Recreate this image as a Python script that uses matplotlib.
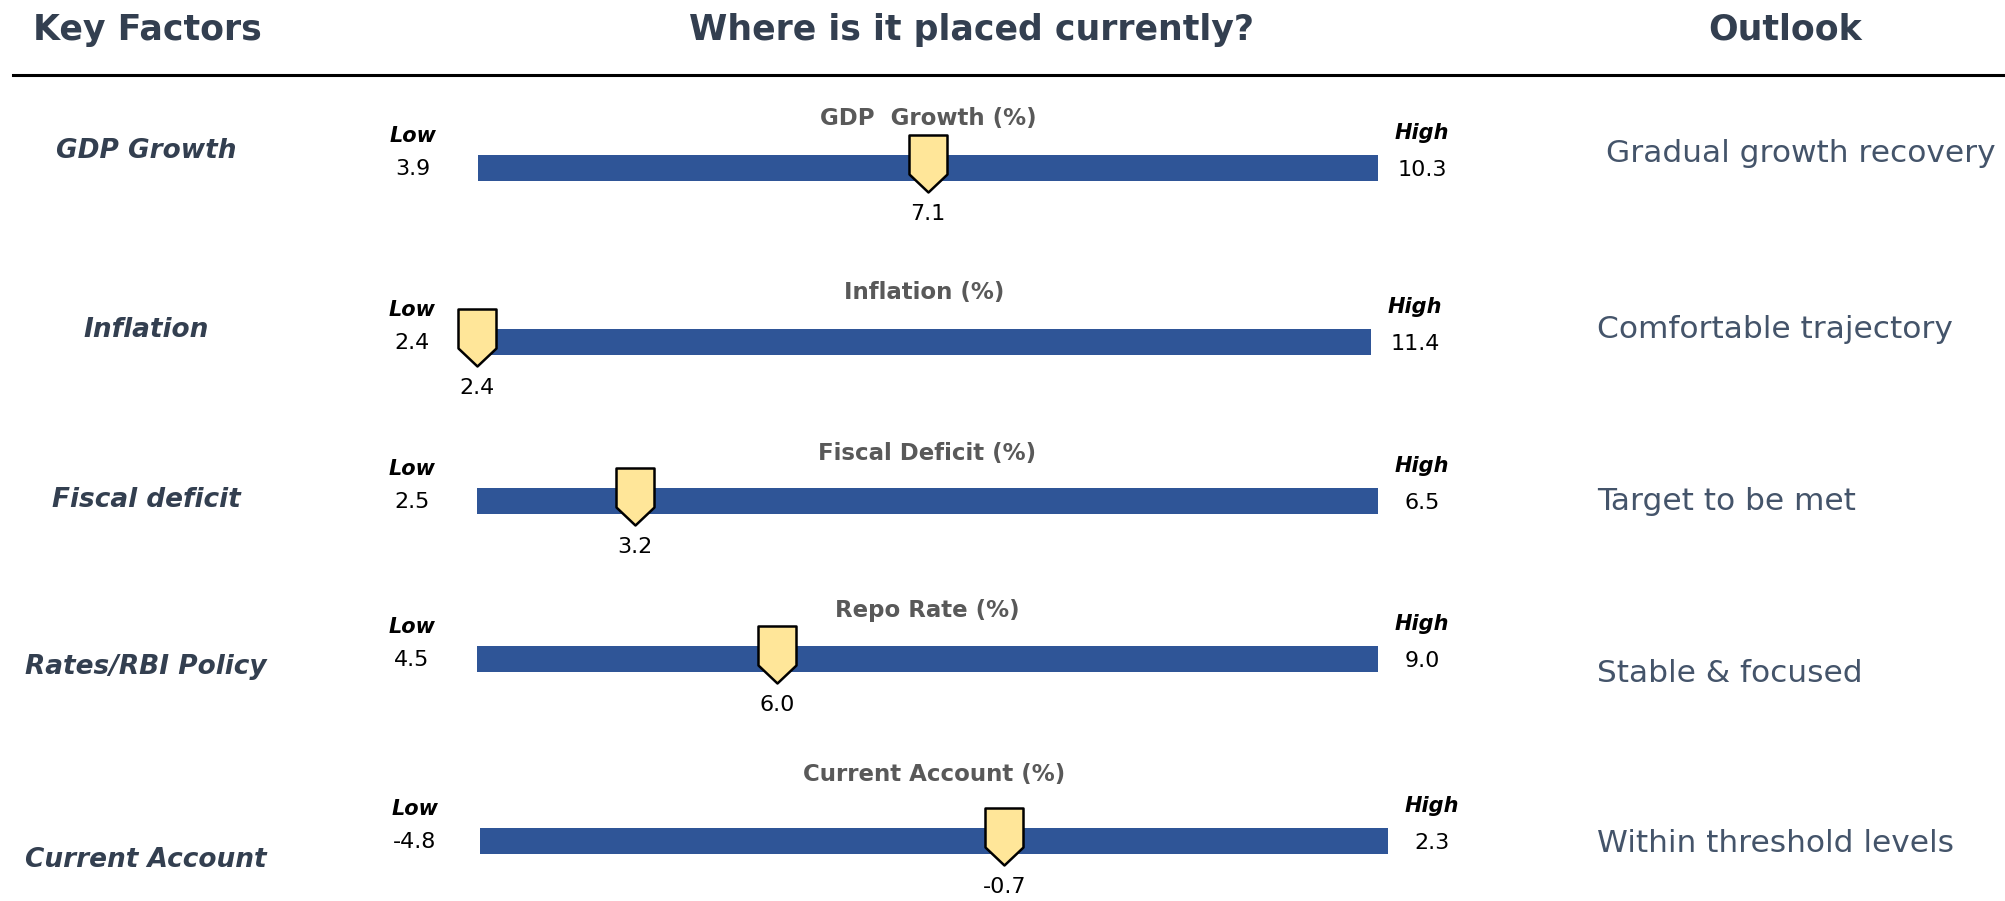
import matplotlib
matplotlib.use("Agg")
import matplotlib.pyplot as plt
from matplotlib.path import Path

# ---------------- data ----------------
factors = ["GDP Growth", "Inflation", "Fiscal deficit", "Rates/RBI Policy", "Current Account"]
gauge_titles = ["GDP  Growth (%)", "Inflation (%)", "Fiscal Deficit (%)", "Repo Rate (%)", "Current Account (%)"]
low_values = [3.9, 2.4, 2.5, 4.5, -4.8]
high_values = [10.3, 11.4, 6.5, 9.0, 2.3]
current_values = [7.1, 2.4, 3.2, 6.0, -0.7]
outlooks = ["Gradual growth recovery", "Comfortable trajectory", "Target to be met",
            "Stable & focused", "Within threshold levels"]
headers = ["Key Factors", "Where is it placed currently?", "Outlook"]

# ---------------- layout (pixels, from top-left) ----------------
W, H, DPI = 2006, 901, 100
bar_cy = [168, 342, 501, 659, 841]
bar_x0 = [478, 477, 477, 477, 480]
bar_x1 = [1378, 1371, 1378, 1378, 1388]
bar_h = 26
label_cy = [151, 330, 500, 667, 860]
title_cy = [118, 292, 453, 610, 775]
outlook_cy = [154, 330, 501, 673, 843]
outlook_x = [1606, 1597, 1597, 1597, 1597]
header_x = [147, 972, 1785]
header_y = 30

BAR_COLOR = "#2F5597"
MARK_COLOR = "#FFE699"
HEAD_COLOR = "#333F50"
LABEL_COLOR = "#333F50"
OUTLOOK_COLOR = "#44546A"
TITLE_COLOR = "#595959"
FONT = "DejaVu Sans"

PT = 72.0 / DPI  # points per pixel

fig = plt.figure(figsize=(W / DPI, H / DPI), dpi=DPI)
fig.patch.set_facecolor("white")


def fx(x):
    return x / W


def fy(y):
    return 1 - y / H


# headers
for txt, x in zip(headers, header_x):
    fig.text(fx(x), fy(header_y), txt, ha="center", va="center", fontsize=25,
             fontweight="bold", color=HEAD_COLOR, family=FONT)

# separator line
fig.add_artist(plt.Line2D([fx(13), fx(W)], [fy(75), fy(75)], color="black", lw=2.2,
                          transform=fig.transFigure))

# marker shape (pentagon pointing down), pixel units relative to bar centre
mk_verts = [(-19, 33), (19, 33), (19, -6), (0, -24), (-19, -6), (-19, 33)]
mk_path = Path(mk_verts, [Path.MOVETO] + [Path.LINETO] * 4 + [Path.CLOSEPOLY])
mk_size = 2 * 33 * PT

for i in range(len(factors)):
    lo, hi, cur = low_values[i], high_values[i], current_values[i]
    x0, x1, cy = bar_x0[i], bar_x1[i], bar_cy[i]
    ax = fig.add_axes([fx(x0), fy(cy + bar_h / 2), (x1 - x0) / W, bar_h / H])
    ax.set_xlim(lo, hi)
    ax.set_ylim(-0.5, 0.5)
    ax.axis("off")
    ax.barh(0, hi - lo, left=lo, height=1.0, color=BAR_COLOR)
    ax.plot([cur], [0], marker=mk_path, markersize=mk_size, markerfacecolor=MARK_COLOR,
            markeredgecolor="black", markeredgewidth=1.8, linestyle="none", clip_on=False,
            zorder=5)
    # current value label
    ax.annotate(f"{cur:.1f}", xy=(cur, 0), xytext=(0, -46 * PT), textcoords="offset points",
                ha="center", va="center", fontsize=16, color="black", family=FONT,
                annotation_clip=False)
    # low / high
    ax.annotate("Low", xy=(lo, 0), xytext=(-65 * PT, 32 * PT), textcoords="offset points",
                ha="center", va="center", fontsize=15, fontweight="bold", fontstyle="italic",
                color="black", family=FONT, annotation_clip=False)
    ax.annotate(f"{lo:.1f}", xy=(lo, 0), xytext=(-65 * PT, -1 * PT), textcoords="offset points",
                ha="center", va="center", fontsize=16, color="black", family=FONT,
                annotation_clip=False)
    ax.annotate("High", xy=(hi, 0), xytext=(44 * PT, 35 * PT), textcoords="offset points",
                ha="center", va="center", fontsize=15, fontweight="bold", fontstyle="italic",
                color="black", family=FONT, annotation_clip=False)
    ax.annotate(f"{hi:.1f}", xy=(hi, 0), xytext=(44 * PT, -2 * PT), textcoords="offset points",
                ha="center", va="center", fontsize=16, color="black", family=FONT,
                annotation_clip=False)
    # gauge title
    fig.text(fx((x0 + x1) / 2), fy(title_cy[i]), gauge_titles[i], ha="center", va="center",
             fontsize=16.5, fontweight="bold", color=TITLE_COLOR, family=FONT)
    # factor label
    fig.text(fx(146), fy(label_cy[i]), factors[i], ha="center", va="center", fontsize=19,
             fontweight="bold", fontstyle="italic", color=LABEL_COLOR, family=FONT)
    # outlook
    fig.text(fx(outlook_x[i]), fy(outlook_cy[i]), outlooks[i], ha="left", va="center",
             fontsize=22.5, color=OUTLOOK_COLOR, family=FONT)

fig.savefig("out.png", dpi=DPI, facecolor="white")
